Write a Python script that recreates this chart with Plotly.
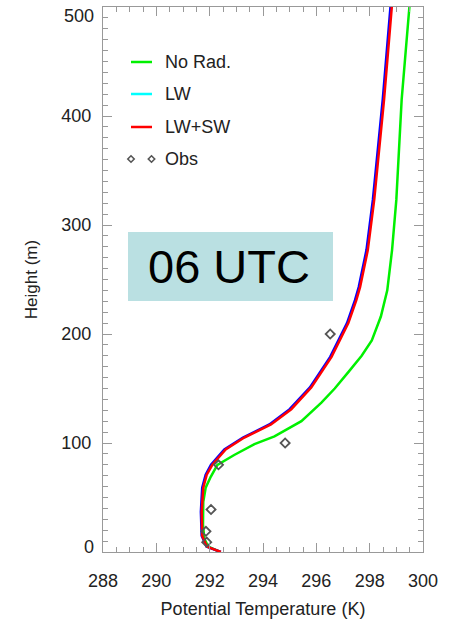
import plotly.graph_objects as go

# ---- data ----
red_h = [0, 5, 15, 37, 59, 71, 80, 94, 105, 117, 131, 151, 179, 210, 231, 243, 277, 323, 415, 500]
red_t = [292.42, 291.89, 291.72, 291.70, 291.76, 291.89, 292.10, 292.60, 293.30, 294.30, 295.06,
         295.81, 296.57, 297.20, 297.50, 297.64, 297.93, 298.17, 298.54, 298.83]
blue_h = [0, 5, 15, 37, 59, 71, 80, 94, 105, 117, 131, 151, 179, 210, 231, 243, 277, 323, 415, 500]
blue_t = [292.42, 291.88, 291.70, 291.67, 291.72, 291.85, 292.05, 292.55, 293.25, 294.24, 295.00,
          295.76, 296.52, 297.15, 297.45, 297.59, 297.88, 298.12, 298.49, 298.78]
green_h = [0, 5, 12, 25, 46, 59, 69, 80, 89, 99, 106, 120, 137, 150, 165, 180, 194, 216, 240, 277,
           323, 415, 500]
green_t = [292.39, 291.95, 291.80, 291.75, 291.76, 291.85, 292.04, 292.29, 292.92, 293.68, 294.43,
           295.44, 296.19, 296.69, 297.20, 297.70, 298.08, 298.42, 298.66, 298.84, 299.00, 299.20, 299.49]
obs_h = [9, 19, 39, 80, 100, 200]
obs_t = [291.89, 291.86, 292.05, 292.33, 294.83, 296.52]

x_ticks = [288, 290, 292, 294, 296, 298, 300]
y_ticks = [0, 100, 200, 300, 400, 500]
legend_names = ["No Rad.", "LW", "LW+SW", "Obs"]
label_text = "06 UTC"

FONT = "Liberation Sans, Arial, Helvetica, sans-serif"

W, H = 449, 629
ML, MR, MT, MB = 103, 26, 7, 77
PW = W - ML - MR
PH = H - MT - MB


def px(x):
    return (x - ML) / PW


def py(y):
    return (H - MB - y) / PH


fig = go.Figure()
fig.add_trace(go.Scatter(x=green_t, y=green_h, mode="lines",
                         line=dict(color="#00f000", width=2.5), showlegend=False))
fig.add_trace(go.Scatter(x=blue_t, y=blue_h, mode="lines",
                         line=dict(color="#0000ff", width=2.5), showlegend=False))
fig.add_trace(go.Scatter(x=red_t, y=red_h, mode="lines",
                         line=dict(color="#ff0000", width=2.5), showlegend=False))
fig.add_trace(go.Scatter(x=obs_t, y=obs_h, mode="markers",
                         marker=dict(symbol="diamond-open", size=7, color="#555555",
                                     line=dict(width=1.8, color="#555555")),
                         showlegend=False))

shapes = []
annotations = []

# label box
shapes.append(dict(type="rect", xref="paper", yref="paper",
                   x0=px(128), x1=px(333), y0=py(301), y1=py(232),
                   fillcolor="#bae0e2", line=dict(width=0), layer="below"))
annotations.append(dict(xref="paper", yref="paper", x=px(229), y=py(266),
                        text=label_text, showarrow=False,
                        font=dict(family=FONT, size=47, color="#000000"),
                        xanchor="center", yanchor="middle"))

# manual legend
leg_colors = ["#00f000", "#00ffff", "#ff0000"]
leg_y = [62, 94, 127, 159]
for i, name in enumerate(legend_names):
    if i < 3:
        shapes.append(dict(type="line", xref="paper", yref="paper",
                           x0=px(131), x1=px(152), y0=py(leg_y[i]), y1=py(leg_y[i]),
                           line=dict(color=leg_colors[i], width=2.5)))
    else:
        for cx in (131, 151.5):
            d = 3.2
            path = "M {},{} L {},{} L {},{} L {},{} Z".format(
                px(cx - d), py(leg_y[i]), px(cx), py(leg_y[i] - d),
                px(cx + d), py(leg_y[i]), px(cx), py(leg_y[i] + d))
            shapes.append(dict(type="path", xref="paper", yref="paper", path=path,
                               line=dict(color="#555555", width=1.6)))
    annotations.append(dict(xref="paper", yref="paper", x=px(163), y=py(leg_y[i]),
                            text=name, showarrow=False, xanchor="left", yanchor="middle",
                            font=dict(family=FONT, size=18, color="#222222")))

# end labels of the height axis, nudged inside the page like the reference
y_ticktext = [str(v) for v in y_ticks]
for v, ypix in ((y_ticks[0], 547), (y_ticks[-1], 16)):
    annotations.append(dict(xref="paper", yref="paper", x=px(96), y=py(ypix),
                            text=str(v), showarrow=False, xanchor="right", yanchor="middle",
                            font=dict(family=FONT, size=18, color="#222222")))
y_ticktext[0] = ""
y_ticktext[-1] = ""

axis_common = dict(showgrid=False, zeroline=False, showline=True, linecolor="#999999",
                   linewidth=1, mirror="allticks", ticks="inside", tickcolor="#999999",
                   tickwidth=1, ticklen=9,
                   tickfont=dict(family=FONT, size=18, color="#222222"))

fig.update_layout(
    width=W, height=H,
    margin=dict(l=ML, r=MR, t=MT, b=MB, autoexpand=False),
    paper_bgcolor="white", plot_bgcolor="white",
    shapes=shapes, annotations=annotations,
    xaxis=dict(range=[288, 300.0001], tickvals=x_ticks, ticktext=[str(v) for v in x_ticks],
               minor=dict(dtick=0.5, ticks="inside", ticklen=5, tickcolor="#999999"),
               ticklabelstandoff=12, ticklabeloverflow="allow",
               title=dict(text="Potential Temperature (K)", standoff=12,
                          font=dict(family=FONT, size=18, color="#222222")),
               **axis_common),
    yaxis=dict(range=[-0.0001, 500.0001], tickvals=y_ticks, ticktext=y_ticktext,
               minor=dict(dtick=10, ticks="inside", ticklen=5, tickcolor="#999999"),
               ticklabelstandoff=7,
               title=dict(text="Height (m)", standoff=19,
                          font=dict(family=FONT, size=17, color="#222222")),
               **axis_common),
)

fig.write_html("out.html")
